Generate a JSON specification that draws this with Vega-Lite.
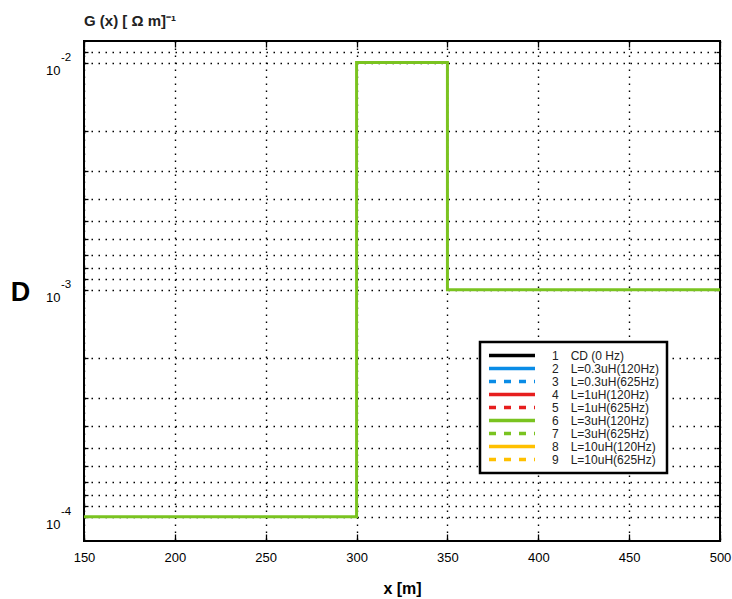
{
  "$schema": "https://vega.github.io/schema/vega-lite/v6.json",
  "width": 636,
  "height": 500,
  "autosize": {"type": "none"},
  "padding": {"left": 84, "top": 41, "right": 12, "bottom": 58},
  "background": "white",
  "config": {
    "font": "Liberation Sans",
    "view": {"stroke": "black", "strokeWidth": 2},
    "legend": {"strokeWidth": 2.5},
    "axis": {
      "domain": false,
      "tickColor": "black",
      "tickWidth": 1.3,
      "labelColor": "black",
      "titleColor": "black",
      "gridColor": "black",
      "gridDash": [1.5, 5.5],
      "gridWidth": 1.4,
      "gridOpacity": 1
    }
  },
  "title": {
    "text": "G (x) [ Ω m]⁻¹",
    "anchor": "start",
    "frame": "group",
    "fontSize": 15,
    "fontWeight": "bold",
    "offset": 11,
    "color": "#222222"
  },
  "datasets": {
    "curve": [
      {"i": 1, "x": 150, "g": 0.0001, "series": "6\u2002\u2002L=3uH(120Hz)"},
      {"i": 2, "x": 300, "g": 0.0001, "series": "6\u2002\u2002L=3uH(120Hz)"},
      {"i": 3, "x": 300, "g": 0.01, "series": "6\u2002\u2002L=3uH(120Hz)"},
      {"i": 4, "x": 350, "g": 0.01, "series": "6\u2002\u2002L=3uH(120Hz)"},
      {"i": 5, "x": 350, "g": 0.001, "series": "6\u2002\u2002L=3uH(120Hz)"},
      {"i": 6, "x": 500, "g": 0.001, "series": "6\u2002\u2002L=3uH(120Hz)"}
    ],
    "exps": [
      {"v": 0.01, "e": "-2"},
      {"v": 0.001, "e": "-3"},
      {"v": 0.0001, "e": "-4"}
    ]
  },
  "layer": [
    {
      "data": {"name": "curve"},
      "mark": {"type": "line", "strokeWidth": 3},
      "encoding": {
        "x": {
          "field": "x",
          "type": "quantitative",
          "scale": {"domain": [150, 500], "nice": false, "zero": false},
          "axis": {
            "values": [150, 200, 250, 300, 350, 400, 450, 500],
            "grid": true,
            "tickSize": -7,
            "labelPadding": 17,
            "labelFontSize": 13,
            "labelFlush": false,
            "title": "x [m]",
            "titleFontSize": 16,
            "titleFontWeight": "bold",
            "titlePadding": 16
          }
        },
        "y": {
          "field": "g",
          "type": "quantitative",
          "scale": {"type": "log", "domain": [0.0000782, 0.01245], "nice": false},
          "axis": {
            "values": [0.0111111, 0.01, 0.005, 0.00333333, 0.0025, 0.002, 0.00166667, 0.00142857, 0.00125, 0.00111111, 0.001, 0.0005, 0.000333333, 0.00025, 0.0002, 0.000166667, 0.000142857, 0.000125, 0.000111111, 0.0001],
            "grid": true,
            "tickSize": -4,
            "labelPadding": 28,
            "labelExpr": "(datum.value == 0.01 || datum.value == 0.001 || datum.value == 0.0001) ? '10' : ''",
            "labelFontSize": 13,
            "labelOffset": 8,
            "title": "D",
            "titleAngle": 0,
            "titleFontSize": 27,
            "titleFontWeight": "bold",
            "titleX": -64,
            "titleY": 251,
            "titleAlign": "center",
            "titleBaseline": "middle"
          }
        },
        "color": {
          "field": "series",
          "type": "nominal",
          "scale": {
            "domain": ["1\u2002\u2002CD (0 Hz)", "2\u2002\u2002L=0.3uH(120Hz)", "3\u2002\u2002L=0.3uH(625Hz)", "4\u2002\u2002L=1uH(120Hz)", "5\u2002\u2002L=1uH(625Hz)", "6\u2002\u2002L=3uH(120Hz)", "7\u2002\u2002L=3uH(625Hz)", "8\u2002\u2002L=10uH(120Hz)", "9\u2002\u2002L=10uH(625Hz)"],
            "range": ["#000000", "#0a8ce6", "#0a8ce6", "#e61e1e", "#e61e1e", "#7ac320", "#7ac320", "#ffc000", "#ffc000"]
          },
          "legend": {
            "orient": "none",
            "legendX": 396,
            "legendY": 301,
            "title": null,
            "symbolType": "stroke",
            "symbolSize": 2116,
            "symbolStrokeWidth": 3.5,
            "clipHeight": 13,
            "labelFontSize": 12,
            "labelOffset": 15,
            "labelColor": "#222222",
            "padding": 7,
            "rowPadding": 0,
            "strokeColor": "black",
            "fillColor": "white"
          }
        },
        "strokeDash": {
          "field": "series",
          "type": "nominal",
          "scale": {
            "domain": ["1\u2002\u2002CD (0 Hz)", "2\u2002\u2002L=0.3uH(120Hz)", "3\u2002\u2002L=0.3uH(625Hz)", "4\u2002\u2002L=1uH(120Hz)", "5\u2002\u2002L=1uH(625Hz)", "6\u2002\u2002L=3uH(120Hz)", "7\u2002\u2002L=3uH(625Hz)", "8\u2002\u2002L=10uH(120Hz)", "9\u2002\u2002L=10uH(625Hz)"],
            "range": [[1, 0], [1, 0], [7, 8], [1, 0], [7, 8], [1, 0], [7, 8], [1, 0], [7, 8]]
          },
          "legend": {
            "orient": "none",
            "legendX": 396,
            "legendY": 301,
            "title": null,
            "symbolType": "stroke",
            "symbolSize": 2116,
            "symbolStrokeWidth": 3.5,
            "clipHeight": 13,
            "labelFontSize": 12,
            "labelOffset": 15,
            "labelColor": "#222222",
            "padding": 7,
            "rowPadding": 0,
            "strokeColor": "black",
            "fillColor": "white"
          }
        },
        "order": {"field": "i"}
      }
    },
    {
      "data": {"name": "exps"},
      "mark": {"type": "text", "align": "left", "baseline": "middle", "dx": -23, "dy": -5, "fontSize": 11.5, "color": "black"},
      "encoding": {
        "x": {
          "datum": 150,
          "type": "quantitative",
          "axis": {"orient": "top", "values": [150, 200, 250, 300, 350, 400, 450, 500], "labels": false, "tickSize": -6, "grid": false, "title": null}
        },
        "y": {
          "field": "v",
          "type": "quantitative",
          "axis": {
            "orient": "right",
            "values": [0.0111111, 0.01, 0.005, 0.00333333, 0.0025, 0.002, 0.00166667, 0.00142857, 0.00125, 0.00111111, 0.001, 0.0005, 0.000333333, 0.00025, 0.0002, 0.000166667, 0.000142857, 0.000125, 0.000111111, 0.0001],
            "labels": false,
            "tickSize": -4,
            "grid": false,
            "title": null
          }
        },
        "text": {"field": "e"}
      }
    }
  ],
  "resolve": {"axis": {"x": "independent", "y": "independent"}}
}
